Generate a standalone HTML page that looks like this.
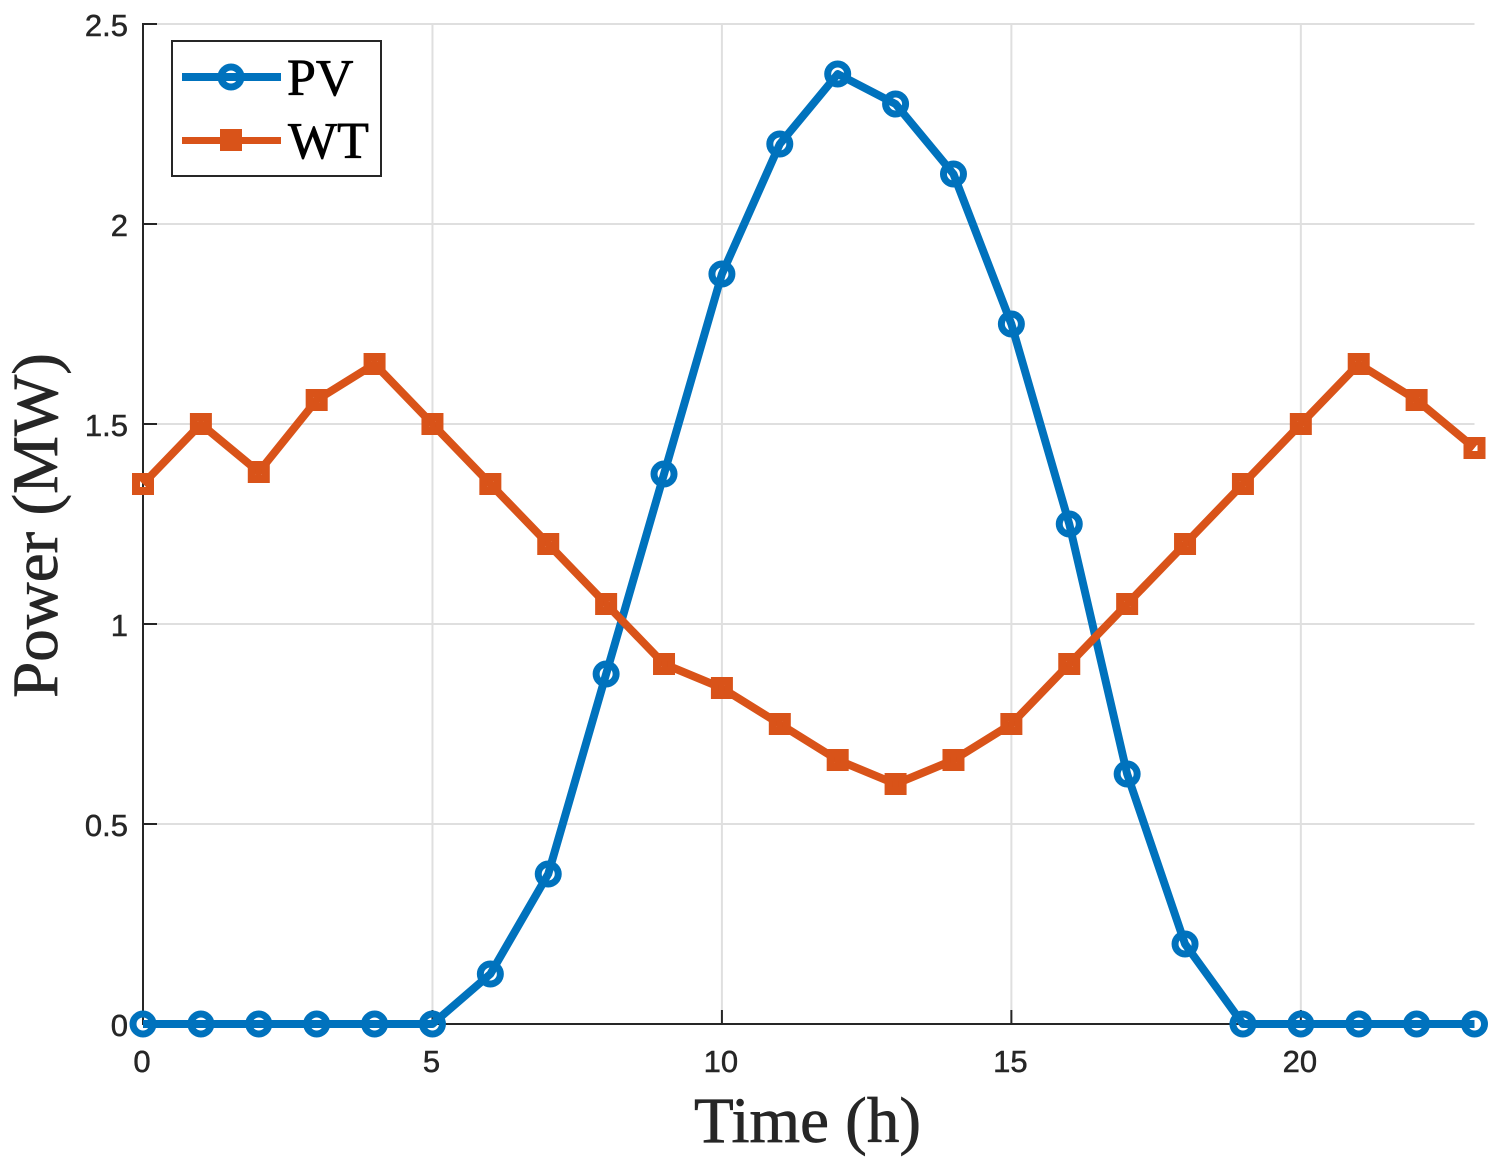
<!DOCTYPE html>
<html lang="en">
<head>
<meta charset="utf-8">
<title>PV and WT Power</title>
<style>
html,body{margin:0;padding:0;background:#fff;width:1501px;height:1168px;overflow:hidden}
svg{display:block}
.tick{font-family:"Liberation Sans",Arial,sans-serif;font-size:31px;fill:#262626;stroke:#262626;stroke-width:.5px}
.serif{font-family:"Liberation Serif","Times New Roman",serif;fill:#262626;stroke:#262626;stroke-width:.7px}
</style>
</head>
<body>
<svg id="chart" width="1501" height="1168" viewBox="0 0 1501 1168" xmlns="http://www.w3.org/2000/svg"></svg>
<script>
const hours = [0,1,2,3,4,5,6,7,8,9,10,11,12,13,14,15,16,17,18,19,20,21,22,23];
const pvValues = [0,0,0,0,0,0,0.125,0.375,0.875,1.375,1.875,2.2,2.375,2.3,2.125,1.75,1.25,0.625,0.2,0,0,0,0,0];
const wtValues = [1.35,1.5,1.38,1.56,1.65,1.5,1.35,1.2,1.05,0.9,0.84,0.75,0.66,0.6,0.66,0.75,0.9,1.05,1.2,1.35,1.5,1.65,1.56,1.44];
const xTicks = [0,5,10,15,20];
const yTicks = [0,0.5,1,1.5,2,2.5];
const xLabel = 'Time (h)';
const yLabel = 'Power (MW)';
const pvName = 'PV';
const wtName = 'WT';

const NS = 'http://www.w3.org/2000/svg';
const svg = document.getElementById('chart');
const LEFT = 143, RIGHT = 1474.5, TOP = 24, BOTTOM = 1024;
const X_MIN = 0, X_MAX = 23, Y_MIN = 0, Y_MAX = 2.5;
const BLUE = '#0072bd', ORANGE = '#d95319', AXIS = '#262626', GRID = '#dfdfdf';

function xScale(v){ return LEFT + (v - X_MIN) / (X_MAX - X_MIN) * (RIGHT - LEFT); }
function yScale(v){ return BOTTOM - (v - Y_MIN) / (Y_MAX - Y_MIN) * (BOTTOM - TOP); }
function make(tag, attrs, parent){
  const el = document.createElementNS(NS, tag);
  for (const k in attrs) el.setAttribute(k, attrs[k]);
  (parent || svg).appendChild(el);
  return el;
}

/* grid */
const gridGroup = make('g', {});


xTicks.forEach(function(t){
  if (t === X_MIN) return;
  const l = make('line', {x1:xScale(t), x2:xScale(t), y1:TOP, y2:BOTTOM, stroke:GRID, 'stroke-width':2}, gridGroup);
  
  
});
yTicks.forEach(function(t){
  if (t === Y_MIN) return;
  const l = make('line', {x1:LEFT, x2:RIGHT, y1:yScale(t), y2:yScale(t), stroke:GRID, 'stroke-width':2}, gridGroup);
  
  
});

/* axes */
const xAxisLine = make('line', {x1:LEFT-1, x2:RIGHT, y1:BOTTOM, y2:BOTTOM, stroke:AXIS, 'stroke-width':2});


const yAxisLine = make('line', {x1:LEFT, x2:LEFT, y1:TOP-1, y2:BOTTOM, stroke:AXIS, 'stroke-width':2});



xTicks.forEach(function(t){
  const m = make('line', {x1:xScale(t), x2:xScale(t), y1:BOTTOM, y2:BOTTOM-14, stroke:AXIS, 'stroke-width':2});
  
  
  const tx = make('text', {x:xScale(t)-1, y:1072, 'text-anchor':'middle', class:'tick'});
  tx.textContent = String(t);
  
  
});
yTicks.forEach(function(t){
  const m = make('line', {x1:LEFT, x2:LEFT+14, y1:yScale(t), y2:yScale(t), stroke:AXIS, 'stroke-width':2});
  
  
  const tx = make('text', {x:128, y:yScale(t)+12, 'text-anchor':'end', class:'tick'});
  tx.textContent = String(t);
  
  
});

/* axis titles */
const xTitle = make('text', {x:807.5, y:1142, 'text-anchor':'middle', class:'serif', 'font-size':65});
xTitle.textContent = xLabel;


const yTitle = make('text', {x:0, y:0, 'text-anchor':'middle', class:'serif', 'font-size':65, transform:'translate(57,525.5) rotate(-90)'});
yTitle.textContent = yLabel;



/* series */
function pointsOf(values){
  return values.map(function(v, i){ return xScale(hours[i]) + ',' + yScale(v); }).join(' ');
}
const pvGroup = make('g', {});


const pvLine = make('polyline', {points:pointsOf(pvValues), fill:'none', stroke:BLUE, 'stroke-width':8, 'stroke-linejoin':'round'}, pvGroup);


pvValues.forEach(function(v, i){
  const c = make('circle', {cx:xScale(hours[i]), cy:yScale(v), r:10, fill:'none', stroke:BLUE, 'stroke-width':7}, pvGroup);
  
  
});

const wtGroup = make('g', {});


const wtLine = make('polyline', {points:pointsOf(wtValues), fill:'none', stroke:ORANGE, 'stroke-width':8, 'stroke-linejoin':'round'}, wtGroup);


wtValues.forEach(function(v, i){
  const s = make('rect', {x:xScale(hours[i])-7, y:yScale(v)-7, width:14, height:14, fill:'none', stroke:ORANGE, 'stroke-width':8}, wtGroup);
  
  
});

/* legend */
const legend = make('g', {});


const legendBox = make('rect', {x:172, y:41, width:209, height:135, fill:'#fff', stroke:AXIS, 'stroke-width':2}, legend);



const pvEntry = make('g', {}, legend);


make('line', {x1:182, x2:281, y1:77, y2:77, stroke:BLUE, 'stroke-width':8}, pvEntry);
make('circle', {cx:231, cy:77, r:10, fill:'none', stroke:BLUE, 'stroke-width':7}, pvEntry);
const pvText = make('text', {x:287, y:95, class:'serif', 'font-size':52, style:'fill:#000;stroke:#000'}, pvEntry);
pvText.textContent = pvName;

const wtEntry = make('g', {}, legend);


make('line', {x1:182, x2:281, y1:140.5, y2:140.5, stroke:ORANGE, 'stroke-width':7}, wtEntry);
make('rect', {x:220, y:129, width:22, height:22, fill:ORANGE}, wtEntry);
const wtText = make('text', {x:288, y:158, class:'serif', 'font-size':52, style:'fill:#000;stroke:#000'}, wtEntry);
wtText.textContent = wtName;
</script>
</body>
</html>
